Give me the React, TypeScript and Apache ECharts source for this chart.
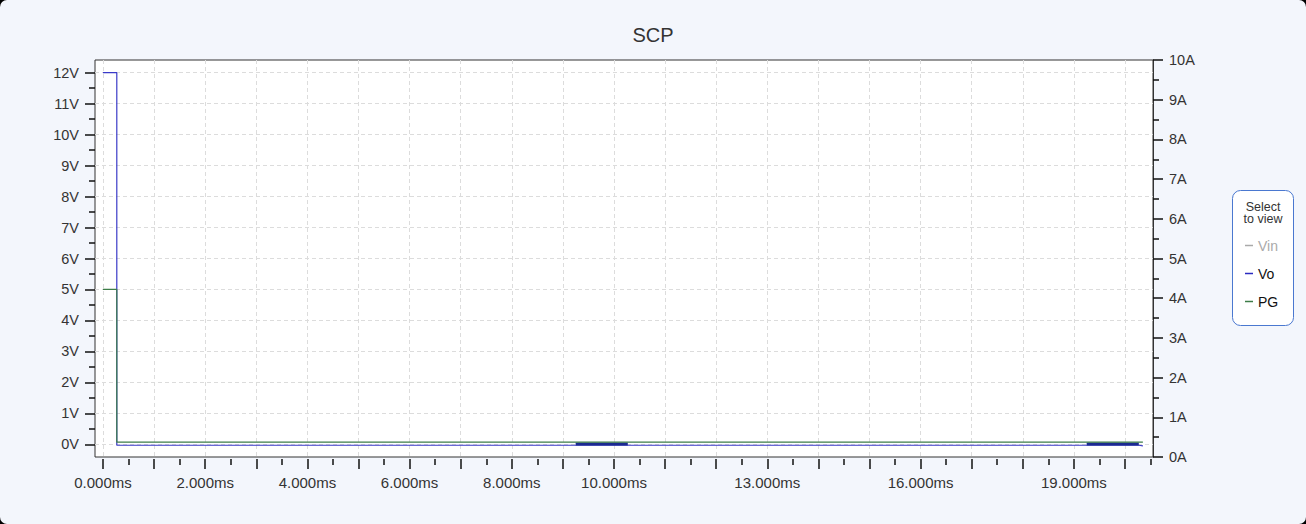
import React, { useEffect, useRef } from "react";
import * as echarts from "echarts";

// ---- data (time in ms, voltage in V) ----
const vinTime = [0, 20.35];
const vinValue = [12, 12];

const voTime = [0, 0.27, 0.27, 9.25, 10.27, 19.25, 20.27, 20.35];
const voValue = [12, 12, -0.03, -0.03, -0.03, -0.03, -0.03, -0.05];

// hiccup (short-circuit retry) bursts of Vo
const voBurstTime = [9.25, 10.27, null, 19.25, 20.27];
const voBurstValue = [0.01, 0.01, null, 0.01, 0.01];

const pgTime = [0, 0.27, 0.27, 20.35];
const pgValue = [5, 5, 0.07, 0.07];

// ---- axis ticks ----
const xMajorTicks = [0, 1, 2, 3, 4, 5, 6, 7, 8, 9, 10, 11, 12, 13, 14, 15, 16, 17, 18, 19, 20];
const xMinorTicks = [0.5, 1.5, 2.5, 3.5, 4.5, 5.5, 6.5, 7.5, 8.5, 9.5, 10.5, 11.5, 12.5, 13.5, 14.5, 15.5, 16.5, 17.5, 18.5, 19.5, 20.5];
const xLabelTicks = [0, 2, 4, 6, 8, 10, 13, 16, 19];
const seriesNames = ["Vin", "Vo", "PG"];

const XMIN = -0.1566;
const XMAX = 20.548;
const FONT = "'Liberation Sans', Arial, sans-serif";

function pairs(t: (number | null)[], v: (number | null)[]) {
  return t.map((x, i) => (x === null || v[i] === null ? ["-", "-"] : [x, v[i]]));
}

export default function App() {
  const ref = useRef<HTMLDivElement>(null);
  useEffect(() => {
    document.body.style.margin = "0";
    document.body.style.background = "#000";
    const chart = echarts.init(ref.current!, null, { renderer: "svg" });
    const tickStyle = { color: "#111", width: 1.5 };
    const yLabelStyle = { color: "#333", fontSize: 14.5, fontFamily: FONT };
    const xLabelStyle = { color: "#333", fontSize: 15, fontFamily: FONT };
    chart.setOption({
      animation: false,
      backgroundColor: "transparent",
      title: {
        text: "SCP",
        left: "center",
        top: 20,
        textStyle: { fontSize: 20, fontWeight: "normal", color: "#333", fontFamily: FONT },
      },
      grid: [
        { left: 95, right: 153, top: 60, bottom: 67, show: true, backgroundColor: "#fff", borderColor: "#333", borderWidth: 1 },
        { left: 95, right: 153, top: 72.7, bottom: 79.7, show: false },
      ],
      xAxis: [
        {
          gridIndex: 0, type: "value", min: XMIN, max: XMAX, position: "bottom", offset: 2,
          axisLine: { show: false, onZero: false },
          axisTick: { show: true, length: 10, customValues: xMajorTicks, lineStyle: tickStyle },
          axisLabel: { ...xLabelStyle, customValues: xLabelTicks, margin: 16, formatter: (v: number) => v.toFixed(3) + "ms" },
          splitLine: { show: true, lineStyle: { type: [4, 3], color: "#dcdcdc" } },
        },
        {
          gridIndex: 0, type: "value", min: XMIN, max: XMAX, position: "bottom", offset: 2,
          axisLine: { show: false, onZero: false },
          axisTick: { show: true, length: 6, customValues: xMinorTicks, lineStyle: tickStyle },
          axisLabel: { show: false },
          splitLine: { show: false },
        },
        { gridIndex: 1, type: "value", min: XMIN, max: XMAX, show: false, axisLine: { onZero: false } },
      ],
      yAxis: [
        {
          gridIndex: 1, type: "value", min: 0, max: 12, interval: 1, position: "left",
          axisLine: { show: false, onZero: false },
          axisTick: { show: true, length: 10, lineStyle: tickStyle },
          minorTick: { show: true, splitNumber: 2, length: 6, lineStyle: tickStyle },
          axisLabel: { ...yLabelStyle, margin: 16, formatter: "{value}V" },
          splitLine: { show: true, lineStyle: { type: [4, 3], color: "#dcdcdc" } },
        },
        {
          gridIndex: 0, type: "value", min: 0, max: 10, interval: 1, position: "right",
          axisLine: { show: true, onZero: false, lineStyle: { color: "#333" } },
          axisTick: { show: true, length: 10, lineStyle: tickStyle },
          minorTick: { show: true, splitNumber: 2, length: 6, lineStyle: tickStyle },
          axisLabel: { ...yLabelStyle, margin: 16, formatter: "{value}A" },
          splitLine: { show: false },
        },
      ],
      legend: {
        data: seriesNames,
        selected: { Vin: false },
        orient: "vertical",
        left: 1245,
        top: 238.5,
        padding: 0,
        itemWidth: 8,
        itemHeight: 1.5,
        itemGap: 14,
        icon: "rect",
        inactiveColor: "#aaa",
        textStyle: { color: "#111", fontSize: 14, fontFamily: FONT },
        z: 10,
      },
      graphic: [
        { type: "rect", z: 5, shape: { x: 1232.5, y: 190.5, width: 61, height: 135, r: 8 }, style: { fill: "#fff", stroke: "#4a78d0", lineWidth: 1 } },
        { type: "text", z: 6, x: 1263, y: 201, style: { text: "Select\nto view", fill: "#333", font: "12.5px " + FONT, textAlign: "center", lineHeight: 12 } },
      ],
      series: [
        {
          name: "Vin", type: "line", xAxisIndex: 2, yAxisIndex: 0, symbol: "none",
          data: pairs(vinTime, vinValue), itemStyle: { color: "#9e9e9e" }, lineStyle: { width: 1 },
        },
        {
          name: "Vo", type: "line", xAxisIndex: 2, yAxisIndex: 0, symbol: "none", clip: false,
          data: pairs(voTime, voValue), itemStyle: { color: "#2b2bc0" }, lineStyle: { width: 1.2, color: "#3a3ac8" },
        },
        {
          name: "Vo", type: "line", xAxisIndex: 2, yAxisIndex: 0, symbol: "none", clip: false, connectNulls: false,
          data: pairs(voBurstTime, voBurstValue), itemStyle: { color: "#2b2bc0" }, lineStyle: { width: 3, color: "#1b2a8e" },
        },
        {
          name: "PG", type: "line", xAxisIndex: 2, yAxisIndex: 0, symbol: "none", clip: false,
          data: pairs(pgTime, pgValue), itemStyle: { color: "#3d7d48" }, lineStyle: { width: 1.2, color: "#3d7d48" },
        },
      ],
    });
    return () => chart.dispose();
  }, []);
  return (
    <div style={{ width: 1306, height: 524, background: "#f3f6fc", borderRadius: 7, overflow: "hidden" }}>
      <div ref={ref} style={{ width: 1306, height: 524 }} />
    </div>
  );
}
